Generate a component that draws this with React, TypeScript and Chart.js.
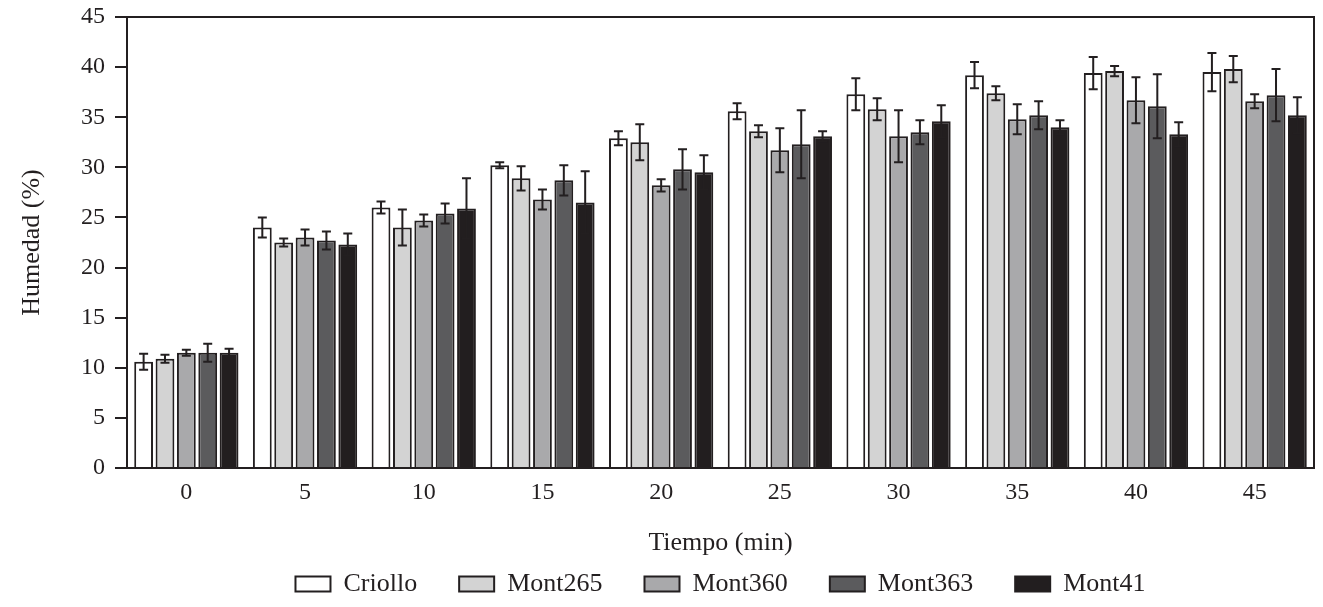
import React, { useEffect, useRef } from "react";
import { Chart, registerables } from "chart.js";

Chart.register(...registerables);

const categories = ["0", "5", "10", "15", "20", "25", "30", "35", "40", "45"];
const seriesNames = ["Criollo", "Mont265", "Mont360", "Mont363", "Mont41"];

const criollo = [10.6, 24.0, 26.0, 30.2, 32.9, 35.6, 37.3, 39.2, 39.4, 39.5];
const mont265 = [10.9, 22.5, 24.0, 28.9, 32.5, 33.6, 35.8, 37.4, 39.6, 39.8];
const mont360 = [11.5, 23.0, 24.7, 26.8, 28.2, 31.7, 33.1, 34.8, 36.7, 36.6];
const mont363 = [11.5, 22.7, 25.4, 28.7, 29.8, 32.3, 33.5, 35.2, 36.1, 37.2];
const mont41 = [11.5, 22.3, 25.9, 26.5, 29.5, 33.1, 34.6, 34.0, 33.3, 35.2];

const criolloErr = [0.8, 1.0, 0.6, 0.3, 0.7, 0.8, 1.6, 1.3, 1.6, 1.9];
const mont265Err = [0.4, 0.4, 1.8, 1.2, 1.8, 0.6, 1.1, 0.7, 0.5, 1.3];
const mont360Err = [0.3, 0.8, 0.6, 1.0, 0.6, 2.2, 2.6, 1.5, 2.3, 0.7];
const mont363Err = [0.9, 0.9, 1.0, 1.5, 2.0, 3.4, 1.2, 1.4, 3.2, 2.6];
const mont41Err = [0.4, 1.1, 3.0, 3.1, 1.7, 0.5, 1.6, 0.7, 1.2, 1.8];

const fills = ["#ffffff", "#d3d3d3", "#a9a9ab", "#5b5b5d", "#221e1f"];
const INK = "#231f20";
const FONT = "'Liberation Serif', 'DejaVu Serif', serif";

const errorBars = {
  id: "errorBars",
  afterDatasetsDraw(chart: any) {
    const ctx = chart.ctx;
    const yScale = chart.scales.y;
    ctx.save();
    ctx.strokeStyle = INK;
    ctx.lineWidth = 2;
    chart.data.datasets.forEach((ds: any, di: number) => {
      const meta = chart.getDatasetMeta(di);
      if (meta.hidden) return;
      meta.data.forEach((bar: any, i: number) => {
        const v = ds.data[i];
        const e = ds.errors[i];
        const yTop = yScale.getPixelForValue(v + e);
        const yBot = yScale.getPixelForValue(v - e);
        const x = bar.x;
        const cap = 4.5;
        ctx.beginPath();
        ctx.moveTo(x, yTop);
        ctx.lineTo(x, yBot);
        ctx.moveTo(x - cap, yTop);
        ctx.lineTo(x + cap, yTop);
        ctx.moveTo(x - cap, yBot);
        ctx.lineTo(x + cap, yBot);
        ctx.stroke();
      });
    });
    ctx.restore();
  },
};

const frame = {
  id: "frame",
  afterDraw(chart: any) {
    const { left, right, top, bottom } = chart.chartArea;
    const ctx = chart.ctx;
    ctx.save();
    ctx.strokeStyle = INK;
    ctx.lineWidth = 2;
    ctx.beginPath();
    ctx.moveTo(left, top);
    ctx.lineTo(right, top);
    ctx.lineTo(right, bottom);
    ctx.stroke();
    ctx.restore();
  },
};

export default function App() {
  const ref = useRef<HTMLCanvasElement | null>(null);

  useEffect(() => {
    document.body.style.margin = "0";
    const values = [criollo, mont265, mont360, mont363, mont41];
    const errs = [criolloErr, mont265Err, mont360Err, mont363Err, mont41Err];
    const chart = new Chart(ref.current as HTMLCanvasElement, {
      type: "bar",
      data: {
        labels: categories,
        datasets: seriesNames.map((name, k) => ({
          label: name,
          data: values[k],
          errors: errs[k],
          backgroundColor: fills[k],
          borderColor: INK,
          borderWidth: 2,
          categoryPercentage: 0.9,
          barPercentage: 0.88,
        })) as any,
      },
      options: {
        responsive: false,
        animation: false,
        devicePixelRatio: 1,
        layout: { padding: { top: 17, right: 9, left: 0, bottom: 0 } },
        plugins: {
          tooltip: { enabled: false },
          legend: {
            position: "bottom",
            fullSize: false,
            labels: {
              boxWidth: 35,
              boxHeight: 15,
              padding: 42,
              color: INK,
              font: { family: FONT, size: 26 },
            },
          },
        },
        scales: {
          x: {
            grid: { display: false, drawTicks: false },
            border: { display: true, color: INK, width: 2 },
            ticks: { color: INK, font: { family: FONT, size: 24 }, padding: 10 },
            title: {
              display: true,
              text: "Tiempo (min)",
              color: INK,
              font: { family: FONT, size: 26 },
              padding: { top: 0, bottom: -30 },
            },
            afterFit: (s: any) => {
              s.height = 61;
            },
          },
          y: {
            min: 0,
            max: 45,
            ticks: { stepSize: 5, color: INK, font: { family: FONT, size: 24 }, padding: 10 },
            grid: { drawOnChartArea: false, drawTicks: true, tickLength: 12, color: INK, lineWidth: 2 },
            border: { display: true, color: INK, width: 2 },
            title: {
              display: true,
              text: "Humedad (%)",
              color: INK,
              font: { family: FONT, size: 26 },
              padding: { top: 17, bottom: 0 },
            },
            afterFit: (s: any) => {
              s.width = 127;
              s.paddingTop = 0;
              s.paddingBottom = 0;
            },
          },
        },
      } as any,
      plugins: [errorBars, frame],
    });
    return () => chart.destroy();
  }, []);

  return (
    <div style={{ width: 1323, height: 607 }}>
      <canvas ref={ref} width={1323} height={607} style={{ display: "block" }} />
    </div>
  );
}
